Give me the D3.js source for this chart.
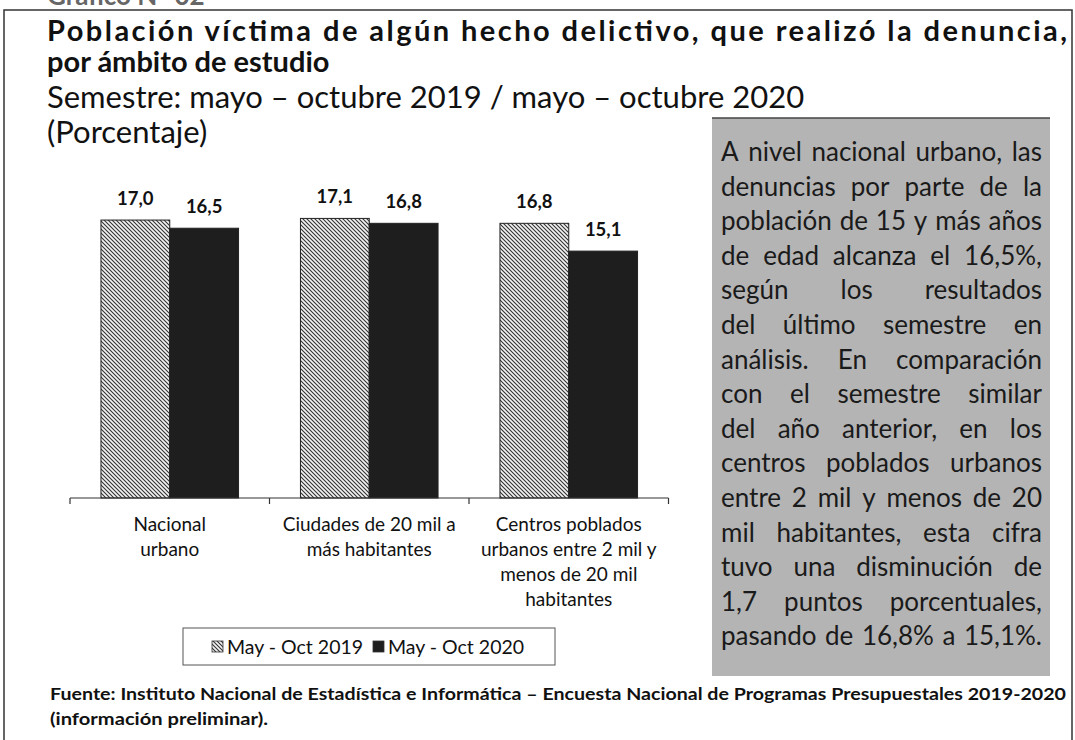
<!DOCTYPE html>
<html>
<head>
<meta charset="utf-8">
<script src="https://cdnjs.cloudflare.com/ajax/libs/d3/7.8.5/d3.min.js"></script>
<style>
  body { margin: 0; background: #fff; }
  text { font-family: Lato, "Open Sans", sans-serif; fill: #111; }
</style>
</head>
<body>
<div id="chart"></div>
<script>
// data
var categories = [["Nacional", "urbano"],
                  ["Ciudades de 20 mil a", "más habitantes"],
                  ["Centros poblados", "urbanos entre 2 mil y", "menos de 20 mil", "habitantes"]];
var series = ["May - Oct 2019", "May - Oct 2020"];
var values2019 = [17.0, 17.1, 16.8];
var values2020 = [16.5, 16.8, 15.1];
var titleLines = ["Población víctima de algún hecho delictivo, que realizó la denuncia,", "por ámbito de estudio"];
var subtitle = "Semestre: mayo – octubre 2019 / mayo – octubre 2020";
var unitLabel = "(Porcentaje)";
var noteLines = ["A nivel nacional urbano, las", "denuncias por parte de la", "población de 15 y más años",
  "de edad alcanza el 16,5%,", "según los resultados", "del último semestre en",
  "análisis. En comparación", "con el semestre similar", "del año anterior, en los",
  "centros poblados urbanos", "entre 2 mil y menos de 20", "mil habitantes, esta cifra",
  "tuvo una disminución de", "1,7 puntos porcentuales,", "pasando de 16,8% a 15,1%."];
var sourceLines = ["Fuente: Instituto Nacional de Estadística e Informática – Encuesta Nacional de Programas Presupuestales 2019-2020",
  "(información preliminar)."];

var W = 1075, H = 740;
var svg = d3.select("#chart").append("svg")
    .attr("width", W).attr("height", H);

var defs = svg.append("defs");
defs.append("pattern")
    .attr("id", "hatch")
    .attr("patternUnits", "userSpaceOnUse")
    .attr("width", 4).attr("height", 4)
  .call(function(p) {
    p.append("rect").attr("width", 4).attr("height", 4).attr("fill", "#f2f2f2");
    p.append("path").attr("d", "M-1,-1 L5,5 M-1,3 L1,5 M3,-1 L5,1")
      .attr("stroke", "#333").attr("stroke-width", 1.1);
  });

// outer frame
svg.append("rect").attr("x", 4).attr("y", 10).attr("width", 1068).attr("height", 740)
  .attr("fill", "none").attr("stroke", "#333").attr("stroke-width", 1.5);

// heading of the page, cut by the scan edge
svg.append("text").attr("x", 47).attr("y", 5)
  .style("font-size", "26px").style("font-weight", 700).style("fill", "#666")
  .text("Gráfico N° 02");

// titles
svg.selectAll("text.title").data(titleLines).enter().append("text")
  .attr("class", "title")
  .attr("x", 47).attr("y", function(d, i) { return 41 + i * 31; })
  .style("font-size", "29px").style("font-weight", 700)
  .attr("textLength", function(d, i) { return i == 0 ? 1020 : null; })
  .attr("lengthAdjust", "spacing")
  .text(function(d) { return d; });

svg.append("text").attr("x", 47).attr("y", 108)
  .style("font-size", "31px")
  .text(subtitle);
svg.append("text").attr("x", 47).attr("y", 143)
  .style("font-size", "31px")
  .text(unitLabel);

// chart
var x0 = d3.scaleBand().domain(d3.range(categories.length))
  .range([70, 668.5]).paddingInner(0).paddingOuter(0);
var x1 = d3.scaleBand().domain(series).range([0, x0.bandwidth()]).paddingOuter(0.45).paddingInner(0);
var y = d3.scaleLinear().domain([0, 20]).range([498, 171]);

var data = [];
categories.forEach(function(c, i) {
  data.push({cat: i, s: series[0], v: values2019[i]});
  data.push({cat: i, s: series[1], v: values2020[i]});
});

var g = svg.append("g");
g.selectAll("rect.bar").data(data).enter().append("rect")
  .attr("class", "bar")
  .attr("x", function(d) { return x0(d.cat) + x1(d.s); })
  .attr("y", function(d) { return y(d.v); })
  .attr("width", x1.bandwidth())
  .attr("height", function(d) { return y(0) - y(d.v); })
  .attr("fill", function(d) { return d.s == series[0] ? "url(#hatch)" : "#1e1e1e"; })
  .attr("stroke", "#222").attr("stroke-width", 1);

g.selectAll("text.val").data(data).enter().append("text")
  .attr("class", "val")
  .attr("x", function(d) { return x0(d.cat) + x1(d.s) + x1.bandwidth() / 2; })
  .attr("y", function(d) { return y(d.v) - 15; })
  .attr("text-anchor", "middle")
  .style("font-size", "18.5px").style("font-weight", 700)
  .text(function(d) { return d.v.toFixed(1).replace(".", ","); });

// x axis with category ticks at band edges
var axis = svg.append("g");
axis.append("line").attr("x1", x0.range()[0]).attr("x2", x0.range()[1])
  .attr("y1", y(0)).attr("y2", y(0)).attr("stroke", "#333").attr("stroke-width", 1.2);
axis.selectAll("line.tick").data(d3.range(categories.length + 1)).enter().append("line")
  .attr("class", "tick")
  .attr("x1", function(d) { return 70 + d * x0.bandwidth(); })
  .attr("x2", function(d) { return 70 + d * x0.bandwidth(); })
  .attr("y1", y(0)).attr("y2", y(0) + 6)
  .attr("stroke", "#333").attr("stroke-width", 1.2);

var labs = axis.selectAll("text.cat").data(categories).enter().append("text")
  .attr("class", "cat")
  .attr("text-anchor", "middle")
  .style("font-size", "19px");
labs.each(function(d, i) {
  var t = d3.select(this);
  d.forEach(function(line, j) {
    t.append("tspan").attr("x", x0(i) + x0.bandwidth() / 2)
      .attr("y", 531 + j * 25).text(line);
  });
});

// legend
var leg = svg.append("g");
leg.append("rect").attr("x", 183).attr("y", 628).attr("width", 372).attr("height", 37)
  .attr("fill", "#fff").attr("stroke", "#555").attr("stroke-width", 1);
var legX = [212, 373];
series.forEach(function(s, i) {
  leg.append("rect").attr("x", legX[i]).attr("y", 641).attr("width", 11).attr("height", 11)
    .attr("fill", i == 0 ? "url(#hatch)" : "#1e1e1e").attr("stroke", "#333").attr("stroke-width", 0.8);
  leg.append("text").attr("x", legX[i] + 15).attr("y", 654)
    .style("font-size", "19.5px").text(s);
});

// note box
var box = svg.append("g");
box.append("rect").attr("x", 712).attr("y", 118).attr("width", 338).attr("height", 558)
  .attr("fill", "#b4b4b4");
box.append("line").attr("x1", 712).attr("x2", 1050).attr("y1", 118).attr("y2", 118)
  .attr("stroke", "#444").attr("stroke-width", 1.5);

var left = 721, right = 1042;
noteLines.forEach(function(line, i) {
  var yy = 161 + i * 34.6;
  var t = box.append("text").attr("y", yy).style("font-size", "26px").style("fill", "#1a1a1a").text(line);
  var wFull = t.node().getComputedTextLength();
  var words = line.split(" ");
  if (wFull >= right - left) {
    // too long: squeeze the whole line into the column
    t.attr("x", left).attr("textLength", right - left).attr("lengthAdjust", "spacingAndGlyphs");
    return;
  }
  t.remove();
  var nodes = words.map(function(w) {
    return box.append("text").attr("y", yy).style("font-size", "26px").style("fill", "#1a1a1a").text(w);
  });
  var widths = nodes.map(function(n) { return n.node().getComputedTextLength(); });
  var gap = (right - left - d3.sum(widths)) / Math.max(1, words.length - 1);
  var xx = left;
  nodes.forEach(function(n, k) { n.attr("x", xx); xx += widths[k] + gap; });
});

// source
svg.selectAll("text.src").data(sourceLines).enter().append("text")
  .attr("class", "src")
  .attr("x", 50).attr("y", function(d, i) { return 700 + i * 25; })
  .style("font-size", "17px").style("font-weight", 700)
  .attr("textLength", function(d, i) { return i == 0 ? 1016 : 218; })
  .attr("lengthAdjust", "spacingAndGlyphs")
  .text(function(d) { return d; });
</script>
</body>
</html>
